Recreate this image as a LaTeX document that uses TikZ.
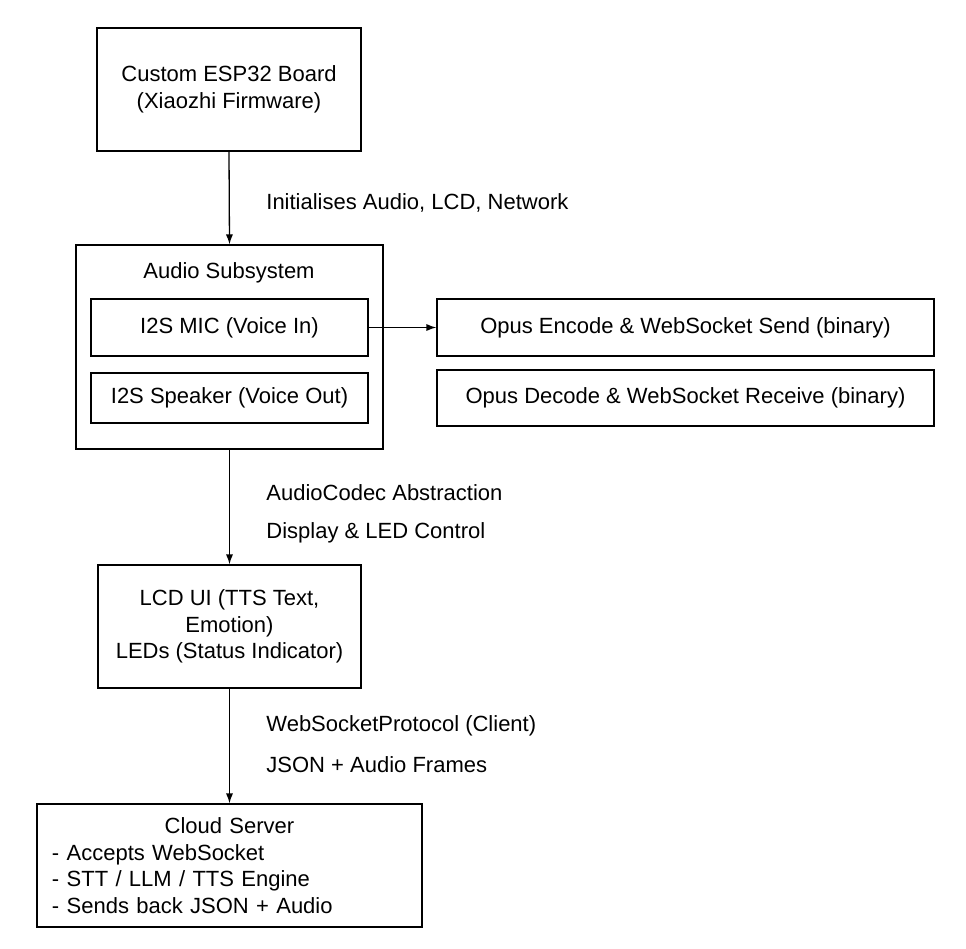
\documentclass[tikz,border=0pt]{standalone}
\usepackage{fontspec}
\setmainfont{Liberation Sans}
\usetikzlibrary{arrows.meta}

\begin{document}
\begin{tikzpicture}[x=0.5pt,y=-0.5pt,
        font=\fontsize{11pt}{13.25pt}\selectfont,
        box/.style={draw, line width=0.65pt, inner sep=0pt, align=center},
        lbl/.style={anchor=west, inner sep=0pt},
        flow/.style={draw, line width=0.65pt, -{Latex[length=5pt,width=3.6pt]}}]
        \useasboundingbox (0,0) rectangle (966,949);

        \node[box, minimum width=132pt, minimum height=61.5pt] (esp) at (229,89.5) {Custom ESP32 Board\\(Xiaozhi Firmware)};
        \node[box, minimum width=153.5pt, minimum height=102pt] (audio) at (229.5,347) {};
        \node[inner sep=0pt] (audiotitle) at (229,273) {Audio Subsystem};
        \node[box, minimum width=138.5pt, minimum height=28.5pt] (mic) at (229.5,327.5) {I2S MIC (Voice In)};
        \node[box, minimum width=138.5pt, minimum height=25pt] (spk) at (229.5,398) {I2S Speaker (Voice Out)};
        \node[box, minimum width=248.5pt, minimum height=28.5pt] (enc) at (685.5,327.5) {Opus Encode \& WebSocket Send (binary)};
        \node[box, minimum width=248.5pt, minimum height=28pt] (dec) at (685.5,398) {Opus Decode \& WebSocket Receive (binary)};
        \node[box, minimum width=131.5pt, minimum height=61.5pt] (lcd) at (229.5,626.5) {LCD UI (TTS Text,\\Emotion)\\LEDs (Status Indicator)};
        \node[box, inner xsep=7.5pt, text width=177.5pt, align=left, minimum height=61.5pt] (cloud) at (229.5,865.5)
            {\makebox[\linewidth]{Cloud Server}\\- Accepts WebSocket\\- STT / LLM / TTS Engine\\- Sends back JSON + Audio};

        \node[lbl] (initlbl) at (266,203) {Initialises Audio, LCD, Network};
        \node[lbl] (codeclbl) at (266,493) {AudioCodec Abstraction};
        \node[lbl] (displbl) at (266,533) {Display \& LED Control};
        \node[lbl] (wslbl) at (266,726) {WebSocketProtocol (Client)};
        \node[lbl] (jsonlbl) at (266,765) {JSON + Audio Frames};

        \path[flow] (esp.south) -- (audio.north);
        \path[flow] (mic.east) -- (enc.west);
        \path[flow] (audio.south) -- (lcd.north);
        \path[flow] (lcd.south) -- (cloud.north);
    \end{tikzpicture}
\end{document}
